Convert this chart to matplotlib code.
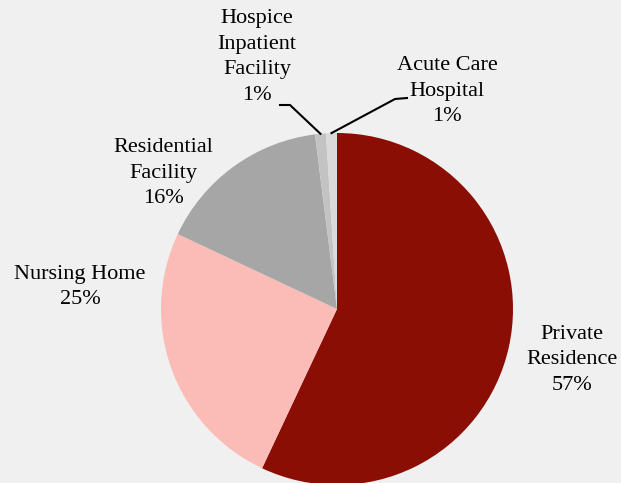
import numpy as np
import matplotlib.pyplot as plt

# place of death shares (percent), clockwise from 12 o'clock
labels = ['Private\nResidence', 'Nursing Home', 'Residential\nFacility',
          'Hospice\nInpatient\nFacility', 'Acute Care\nHospital']
values = [57, 25, 16, 1, 1]
colors = ['#8B0E04', '#FBBCB8', '#A6A6A6', '#C3C3C3', '#DADADA']

# label block centres in pixels (layout only)
label_pos = [(572, 360), (80, 287), (163, 173), (257, 57), (447, 91)]

W, H = 621, 483
cx, cy, R = 337, 309, 176
bg = '#F0F0F0'

def px(x, y):  # pixel -> pie data coords
    return (x - cx) / R, (cy - y) / R

fig = plt.figure(figsize=(W / 100, H / 100), dpi=100, facecolor=bg)
ax = fig.add_axes([(cx - R) / W, (H - cy - R) / H, 2 * R / W, 2 * R / H])
ax.set_facecolor(bg)
wedges, _ = ax.pie(values, colors=colors, startangle=90, counterclock=False,
                   radius=1, wedgeprops=dict(linewidth=0))
ax.set_xlim(-1, 1)
ax.set_ylim(-1, 1)
ax.set_aspect('equal')
ax.axis('off')

for lab, v, (x, y) in zip(labels, values, label_pos):
    tx, ty = px(x, y)
    ax.text(tx, ty, f"{lab}\n{v}%", ha='center', va='center', multialignment='center',
            fontsize=16, family='Liberation Serif', linespacing=1.48, clip_on=False)

# leader lines for the two small slices
elbows = {3: [(290, 105), (280, 105)], 4: [(395, 99), (407, 98)]}
for i, pts in elbows.items():
    w = wedges[i]
    ang = np.deg2rad((w.theta1 + w.theta2) / 2)
    xs = [np.cos(ang)] + [px(*p)[0] for p in pts]
    ys = [np.sin(ang)] + [px(*p)[1] for p in pts]
    ax.plot(xs, ys, color='black', lw=1.5, clip_on=False)

fig.savefig('out.png', dpi=100, facecolor=bg)
